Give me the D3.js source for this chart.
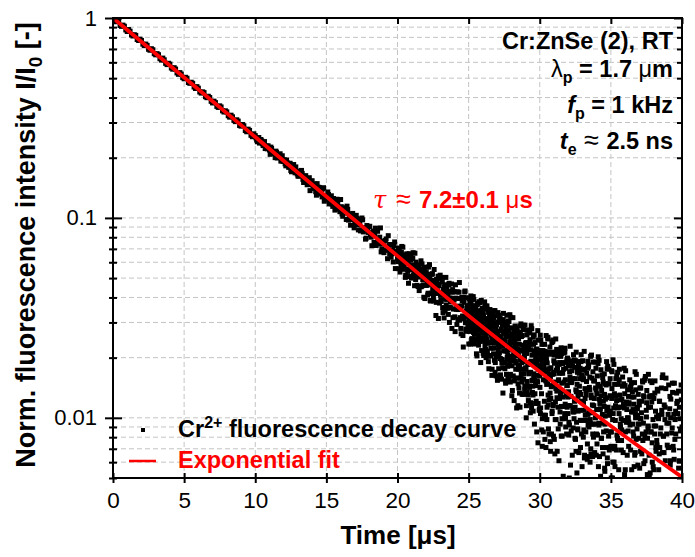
<!DOCTYPE html>
<html><head><meta charset="utf-8">
<script src="https://cdn.jsdelivr.net/npm/d3@7"></script>
<style>
body{margin:0;background:#fff}
svg text{font-family:Arial,"Liberation Sans",sans-serif}
</style>
</head><body>
<svg id="chart" width="695" height="557"></svg>
<script>
// ---------------- data ----------------
const xTickValues = [0, 5, 10, 15, 20, 25, 30, 35, 40];
const yTickValues = [1, 0.1, 0.01];
const yTickLabels = ["1", "0.1", "0.01"];

// exponential fit curve
const fitTime  = [0, 5, 10, 15, 20, 25, 30, 35, 40];
const fitValue = [1, 0.504, 0.254, 0.128, 0.0646, 0.0324, 0.0170, 0.0091, 0.00505];

// recorded decay trace, intensity in units of 1e-4 (I/I0 x 10^4), channel A
const traceA0to10 = [
10000,9575,9630,9082,9096,8562,8594,8130,8184,7720,
7725,7272,7299,6898,6937,6543,6553,6157,6179,5846,
5878,5545,5554,5228,5247,4964,4997,4714,4716,4440,
4456,4211,4235,3994,4001,3759,3774,3570,3590,3386,
3391,3192,3204,3031,3051,2878,2891,2697,2740,2548];
const traceA10to20 = [
2580,2450,2486,2368,2467,2352,2375,2223,2286,2295,
2185,2260,2110,2131,2002,2128,2030,2037,1925,2046,
1916,1865,1949,1828,1873,1728,1799,1849,1681,1715,
1619,1691,1634,1671,1504,1613,1566,1495,1589,1469,
1533,1403,1453,1299,1425,1421,1337,1274,1416,1268,
1290,1348,1175,1248,1172,1250,1094,1168,1192,1107,
1236,1046,1116,1061,982,1102,1043,919,1040,1012,
938,1030,927,984,861,999,851,894,792,895,
904,822,726,860,824,728,857,741,891,701,
745,690,785,625,731,736,661,602,758,669];
const traceA20to25 = [
626,707,557,663,634,579,720,556,636,592,
653,504,610,661,552,593,509,620,566,652,
508,579,670,512,458,579,601,512,538,454,
565,512,453,610,536,458,519,401,552,524,
460,567,469,420,522,584,386,487,419,526,
467,384,486,453,325,492,419,511,458,375,
517,389,416,478,336,428,450,342,504,391,
353,421,463,300,398,355,467,425,317,395,
427,270,397,350,427,310,362,475,317,280,
362,385,258,400,313,431,278,341,364,286];
const traceA25to40 = [
331,271,394,299,357,234,324,379,286,341,
249,339,299,404,267,327,234,359,317,284,
344,284,209,327,369,244,334,294,231,381,
259,377,309,244,189,344,299,267,353,281,
338,210,320,283,252,380,230,305,268,200,
266,313,209,349,286,236,337,176,301,321,
348,238,273,205,311,251,175,299,335,223,
209,316,224,274,344,189,282,259,202,268,
271,154,301,231,208,326,226,314,240,198,
160,256,273,196,244,290,178,228,333,268,
265,301,176,243,149,255,277,195,216,291,
205,183,305,273,158,231,328,151,245,193,
282,222,182,137,257,247,202,275,122,237,
158,258,225,248,188,112,282,212,254,148,
211,175,263,133,288,158,195,295,165,219,
151,258,166,216,286,131,224,201,144,210,
235,175,100,218,260,135,225,185,122,272,
166,144,266,234,119,192,289,112,206,154,
190,130,253,158,216,93,183,238,145,200,
121,221,188,211,151,75,245,175,217,111,
162,209,105,245,182,132,233,72,197,217,
85,181,198,121,169,215,103,153,258,193,
98,188,148,253,116,176,83,208,166,133,
161,125,213,83,238,108,145,245,115,169,
206,78,188,151,120,248,98,173,136,68,
177,213,88,155,61,167,189,107,128,203,
224,114,149,81,187,127,51,175,211,99,
105,223,155,90,35,190,145,113,199,127,
195,135,95,50,170,160,115,188,35,150,
152,35,182,112,89,207,107,195,121,79,
157,193,68,135,41,147,169,87,108,183,
67,167,134,157,97,21,191,121,163,57,
173,45,155,118,87,215,65,140,103,35,
137,20,167,97,74,192,92,180,106,64,
48,138,98,203,66,126,33,158,116,83,
190,80,115,47,153,93,17,141,177,65,
110,74,162,32,187,57,94,194,64,118,
111,51,174,79,137,14,104,159,66,121,
18,114,131,54,102,148,36,86,191,126,
63,181,113,48,-7,148,103,71,157,85,
72,50,172,140,25,98,195,18,112,60,
132,72,-3,115,157,32,122,82,19,169,
40,147,55,105,175,20,113,90,33,99,
77,124,20,160,97,47,148,-13,112,132,
145,85,45,0,120,110,65,138,-15,100,
72,119,15,155,92,42,143,-18,107,127,
-3,93,110,33,81,127,15,65,170,105,
138,78,38,-7,113,103,58,131,-22,93,
116,56,-19,99,141,16,106,66,3,153,
77,41,129,-1,154,24,61,161,31,85,
101,137,12,79,-15,91,113,31,52,127,
35,153,85,20,-35,120,75,43,129,57,
18,125,33,83,153,-2,91,68,11,77,
73,13,136,41,99,-24,66,121,28,83,
41,19,141,109,-6,67,164,-13,81,29,
116,-12,98,61,30,158,8,83,46,-22,
4,104,71,94,34,-42,128,58,100,-6,
-6,84,44,149,12,72,-21,104,62,29,
78,-39,108,38,15,133,33,121,47,5,
136,26,61,-7,99,39,-37,87,123,11,
90];
// channel B, sampled half a step later than channel A
const traceB0to10 = [
9716,9752,9179,9213,8716,8755,8235,8248,7803,7839,
7395,7406,6972,7019,6627,6631,6260,6302,5932,5936,
5621,5642,5312,5331,5033,5051,4755,4772,4515,4536,
4265,4272,4041,4060,3830,3837,3612,3636,3433,3434,
3243,3265,3073,3096,2900,2933,2736,2780,2589,2635];
const traceB10to20 = [
2513,2403,2524,2401,2429,2301,2409,2287,2216,2255,
2080,2225,2110,2122,2158,1994,2011,2093,1932,1920,
1953,1822,1886,1790,1876,1701,1812,1732,1799,1660,
1618,1665,1728,1560,1563,1627,1465,1550,1369,1529,
1453,1478,1353,1484,1351,1317,1363,1395,1212,1274,
1231,1309,1222,1290,1142,1207,1136,1240,1129,1074,
1138,1019,1124,1059,1145,975,1031,982,1053,892,
981,993,871,953,870,978,870,783,916,846,
908,801,825,754,889,748,762,801,676,766,
670,770,690,815,661,636,691,727,558,680];
const traceB20to25 = [
604,650,700,536,602,672,603,714,554,575,
631,517,608,649,540,471,662,553,614,500,
551,627,518,545,666,492,559,460,506,582,
433,555,521,453,589,491,462,564,395,502,
533,460,412,568,465,502,384,420,522,439,
400,552,419,461,378,490,432,314,466,498,
410,382,504,356,439,316,463,395,367,439,
416,329,471,358,381,428,280,438,350,388,
320,463,350,293,395,348,425,308,355,263,
400,323,226,378,426,299,271,354,322,399];
const traceB25to40 = [
234,344,309,377,271,331,407,283,247,359,
275,239,364,297,391,285,263,345,324,249,
359,269,309,204,341,281,374,249,291,324,
341,241,274,251,311,387,217,287,245,351,
268,328,205,300,242,365,275,220,313,258,
246,363,216,286,309,191,291,203,277,319,
205,333,223,260,291,163,313,238,275,343,
246,282,194,324,169,299,262,162,292,238,
201,261,336,218,176,301,211,251,314,164,
256,278,156,188,303,230,133,310,216,268,
236,189,293,153,216,266,165,326,201,181,
158,218,258,303,183,193,238,165,318,203,
247,129,197,262,317,162,207,239,153,225,
288,192,175,252,204,158,270,220,115,180,
248,141,233,183,113,268,175,198,255,189,
131,191,231,276,156,166,211,138,291,176,
178,238,115,210,152,275,185,130,223,168,
189,142,246,106,169,219,118,279,154,134,
144,108,233,166,260,154,132,214,193,118,
203,85,153,218,273,118,163,195,109,181,
142,259,112,182,205,87,187,99,173,215,
155,191,103,233,78,208,171,71,201,147,
113,173,248,130,88,213,123,163,226,76,
68,178,143,211,105,165,241,117,81,193,
166,188,66,98,213,140,43,220,126,178,
203,113,153,48,185,125,218,93,135,168,
81,209,99,136,167,39,189,114,151,219,
213,117,100,177,129,83,195,145,40,105,
182,82,115,92,152,228,58,128,86,192,
172,65,157,107,37,192,99,122,179,113,
78,138,213,95,53,178,88,128,191,41,
34,144,109,177,71,131,207,83,47,159,
193,97,80,157,109,63,175,125,20,85,
130,152,30,62,177,104,7,184,90,142,
160,60,93,70,130,206,36,106,64,170,
93,153,30,125,67,190,100,45,138,83,
132,14,82,147,202,47,92,124,38,110,
144,37,129,79,9,164,71,94,151,85,
38,166,56,93,124,-4,146,71,108,176,
59,23,148,81,175,69,47,129,108,33,
25,85,125,170,50,60,105,32,185,70,
147,57,97,-8,129,69,162,37,79,112,
77,113,25,155,0,130,93,-7,123,69,
87,40,144,4,67,117,16,177,52,32,
55,172,25,95,118,0,100,12,86,128,
95,117,-5,27,142,69,-28,149,55,107,
135,45,85,-20,117,57,150,25,67,100,
48,165,18,88,111,-7,93,5,79,121,
13,141,31,68,99,-29,121,46,83,151,
-16,94,59,127,21,81,157,33,-3,109,
119,19,52,29,89,165,-5,65,23,129,
53,113,-10,85,27,150,60,5,98,43,
55,91,3,133,-22,108,71,-29,101,47,
139,43,26,103,55,9,121,71,-34,31,
89,-29,39,104,159,4,49,81,-5,67,
24,-12,113,46,140,34,12,94,73,-2,
11,71,146,28,-14,111,21,61,124,-26,
-11,49,89,134,14,24,69,-4,149,34,
98,-9,83,33,-37,118,25,48,105,39,
56,9,113,-27,36,86,-15,146,21,1];
const traceSegments = [
  {startUs: 0,       stepUs: 0.2,   values: traceA0to10},
  {startUs: 10,      stepUs: 0.1,   values: traceA10to20},
  {startUs: 20,      stepUs: 0.05,  values: traceA20to25},
  {startUs: 25,      stepUs: 0.025, values: traceA25to40},
  {startUs: 0.1,     stepUs: 0.2,   values: traceB0to10},
  {startUs: 10.05,   stepUs: 0.1,   values: traceB10to20},
  {startUs: 20.025,  stepUs: 0.05,  values: traceB20to25},
  {startUs: 25.0125, stepUs: 0.025, values: traceB25to40}
];

// ---------------- chart ----------------
const m = {left: 113, right: 682, top: 18, bottom: 478};
const svg = d3.select("#chart");
const x = d3.scaleLinear().domain([0, 40]).range([m.left, m.right]);
const y = d3.scaleLog().domain([0.005, 1]).range([m.bottom, m.top]);

const points = [];
traceSegments.forEach(s => s.values.forEach((v, i) => {
  if (v > 0) points.push({t: s.startUs + i * s.stepUs, v: v * 1e-4});
}));

// grid
const gridColor = "#c4c4c4";
const minorY = y.ticks().filter(d => d < 1);
svg.append("g").selectAll("line").data(minorY).join("line")
  .attr("x1", m.left).attr("x2", m.right)
  .attr("y1", d => y(d)).attr("y2", d => y(d))
  .attr("stroke", gridColor).attr("stroke-width", 1).attr("stroke-dasharray", "5,3");
svg.append("g").selectAll("line").data(xTickValues.filter(d => d > 0 && d < 40)).join("line")
  .attr("y1", m.top).attr("y2", m.bottom)
  .attr("x1", d => x(d)).attr("x2", d => x(d))
  .attr("stroke", gridColor).attr("stroke-width", 1).attr("stroke-dasharray", "5,3");

// clip
svg.append("clipPath").attr("id", "plotclip").append("rect")
  .attr("x", m.left).attr("y", m.top).attr("width", m.right - m.left).attr("height", m.bottom - m.top);

const S = 5;
svg.append("g").attr("clip-path", "url(#plotclip)")
  .selectAll("rect").data(points).join("rect")
  .attr("x", d => x(d.t) - S / 2).attr("y", d => y(d.v) - S / 2)
  .attr("width", S).attr("height", S).attr("fill", "#000");

const fitLine = d3.line().x((d, i) => x(fitTime[i])).y(d => y(d)).curve(d3.curveMonotoneX);
svg.append("path").attr("clip-path", "url(#plotclip)").datum(fitValue)
  .attr("d", fitLine).attr("fill", "none").attr("stroke", "#ff0000").attr("stroke-width", 3.8);

// axes
function styleAxis(g) {
  g.select(".domain").remove();
  g.selectAll("line").attr("stroke", "#000").attr("stroke-width", 2);
}
svg.append("g").attr("transform", `translate(0,${m.bottom})`)
  .call(d3.axisBottom(x).tickValues(xTickValues).tickSize(5).tickPadding(9).tickFormat(d3.format("d")))
  .call(styleAxis)
  .call(g => g.selectAll("text").attr("font-size", 22.5).attr("fill", "#000"));
svg.append("g").attr("transform", `translate(0,${m.bottom})`)
  .call(d3.axisBottom(x).tickValues(xTickValues).tickSize(-5).tickFormat(""))
  .call(styleAxis);
svg.append("g").attr("transform", `translate(0,${m.top})`)
  .call(d3.axisTop(x).tickValues(xTickValues).tickSize(-6).tickFormat(""))
  .call(styleAxis);
svg.append("g").attr("transform", `translate(${m.left},0)`)
  .call(d3.axisLeft(y).tickValues(yTickValues).tickSize(8).tickPadding(8).tickFormat((d, i) => yTickLabels[i]))
  .call(styleAxis)
  .call(g => g.selectAll("text").attr("font-size", 22).attr("fill", "#000"));
svg.append("g").attr("transform", `translate(${m.left},0)`)
  .call(d3.axisLeft(y).tickValues(yTickValues).tickSize(-9).tickFormat(""))
  .call(styleAxis);
const minorOnly = minorY.filter(d => !yTickValues.includes(d));
svg.append("g").attr("transform", `translate(${m.left},0)`)
  .call(d3.axisLeft(y).tickValues(minorOnly).tickSize(4).tickFormat(""))
  .call(styleAxis);
svg.append("g").attr("transform", `translate(${m.left},0)`)
  .call(d3.axisLeft(y).tickValues(minorOnly).tickSize(-4).tickFormat(""))
  .call(styleAxis);
svg.append("g").attr("transform", `translate(${m.right},0)`)
  .call(d3.axisRight(y).tickValues(yTickValues).tickSize(-8).tickFormat(""))
  .call(styleAxis);
svg.append("g").attr("transform", `translate(${m.right},0)`)
  .call(d3.axisRight(y).tickValues(minorOnly).tickSize(-5).tickFormat(""))
  .call(styleAxis);
svg.append("rect").attr("x", m.left).attr("y", m.top)
  .attr("width", m.right - m.left).attr("height", m.bottom - m.top)
  .attr("fill", "none").attr("stroke", "#000").attr("stroke-width", 2);

// axis titles
svg.append("text").attr("x", 398).attr("y", 544)
  .attr("text-anchor", "middle").attr("font-size", 26).attr("font-weight", "bold")
  .text("Time [μs]");
const yt = svg.append("text").attr("transform", "translate(35,245) rotate(-90)")
  .attr("text-anchor", "middle").attr("font-size", 27).attr("font-weight", "bold");
yt.append("tspan").text("Norm. fluorescence intensity I/I");
yt.append("tspan").attr("font-size", 19).attr("dy", 7).text("0");
yt.append("tspan").attr("dy", -7).text(" [-]");

// annotations top right
const ax = 673, fs = 23.5, sub = 16;
svg.append("text").attr("x", ax).attr("y", 49).attr("text-anchor", "end")
  .attr("font-size", fs).attr("font-weight", "bold").text("Cr:ZnSe (2), RT");
const l2 = svg.append("text").attr("x", ax).attr("y", 77).attr("text-anchor", "end")
  .attr("font-size", fs).attr("font-weight", "bold");
l2.append("tspan").attr("font-weight", "normal").text("λ");
l2.append("tspan").attr("font-size", sub).attr("dy", 6).text("p");
l2.append("tspan").attr("dy", -6).text(" = 1.7 ");
l2.append("tspan").attr("font-weight", "normal").text("μ");
l2.append("tspan").text("m");
const l3 = svg.append("text").attr("x", ax).attr("y", 113).attr("text-anchor", "end")
  .attr("font-size", fs).attr("font-weight", "bold");
l3.append("tspan").attr("font-style", "italic").text("f");
l3.append("tspan").attr("font-size", sub).attr("dy", 6).text("p");
l3.append("tspan").attr("dy", -6).text(" = 1 kHz");
const l4 = svg.append("text").attr("x", ax).attr("y", 149).attr("text-anchor", "end")
  .attr("font-size", fs).attr("font-weight", "bold");
l4.append("tspan").attr("font-style", "italic").text("t");
l4.append("tspan").attr("font-size", sub).attr("dy", 6).text("e");
l4.append("tspan").attr("dy", -6).attr("font-weight", "normal").attr("font-size", 27).text(" ≈ ");
l4.append("tspan").text("2.5 ns");

// tau annotation
const tau = svg.append("text").attr("x", 373).attr("y", 208)
  .attr("font-size", 24).attr("font-weight", "bold").attr("fill", "#ff0000");
tau.append("tspan").attr("font-style", "italic").attr("font-weight", "normal")
  .attr("font-family", "'DejaVu Serif',serif").text("τ");
tau.append("tspan").attr("x", 396).attr("font-weight", "normal").attr("font-size", 27).text("≈");
tau.append("tspan").attr("x", 419).text("7.2±0.1 ");
tau.append("tspan").attr("font-weight", "normal").text("μ");
tau.append("tspan").text("s");

// legend
svg.append("rect").attr("x", 143 - 2).attr("y", 430 - 2).attr("width", 4).attr("height", 4).attr("fill", "#000");
const lg1 = svg.append("text").attr("x", 178).attr("y", 437)
  .attr("font-size", fs).attr("font-weight", "bold");
lg1.append("tspan").text("Cr");
lg1.append("tspan").attr("font-size", sub).attr("dy", -9).text("2+");
lg1.append("tspan").attr("dy", 9).text(" fluorescence decay curve");
svg.append("line").attr("x1", 129).attr("x2", 156).attr("y1", 461).attr("y2", 461)
  .attr("stroke", "#ff0000").attr("stroke-width", 2.5);
svg.append("text").attr("x", 178).attr("y", 468).attr("font-size", fs)
  .attr("font-weight", "bold").attr("fill", "#ff0000").text("Exponential fit");
</script>
</body></html>
